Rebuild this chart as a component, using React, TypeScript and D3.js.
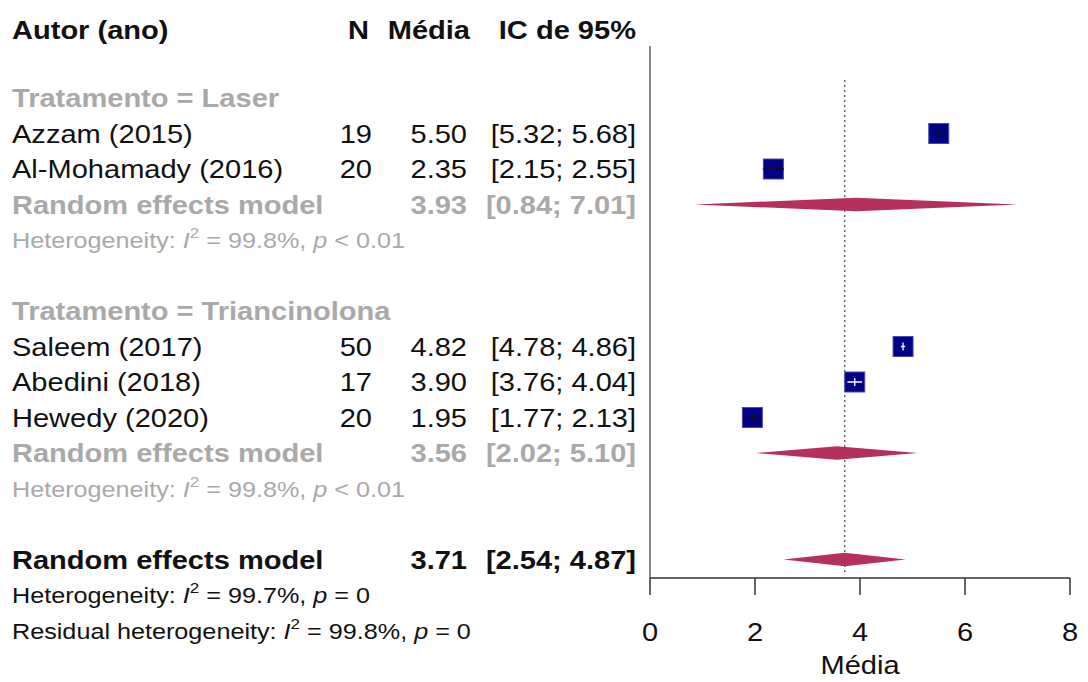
import React from "react";
import * as d3 from "d3";

// Individual studies
const studyLabels = ["Azzam (2015)", "Al-Mohamady (2016)", "Saleem (2017)", "Abedini (2018)", "Hewedy (2020)"];
const studyGroup = ["Laser", "Laser", "Triancinolona", "Triancinolona", "Triancinolona"];
const studyN = [19, 20, 50, 17, 20];
const studyMean = [5.5, 2.35, 4.82, 3.9, 1.95];
const studyLower = [5.32, 2.15, 4.78, 3.76, 1.77];
const studyUpper = [5.68, 2.55, 4.86, 4.04, 2.13];

// Subgroup random-effects summaries
const groupNames = ["Laser", "Triancinolona"];
const groupMean = [3.93, 3.56];
const groupLower = [0.84, 2.02];
const groupUpper = [7.01, 5.1];
const groupI2 = ["99.8%", "99.8%"];
const groupP = ["< 0.01", "< 0.01"];

// Overall random-effects summary
const overallMean = 3.71;
const overallLower = 2.54;
const overallUpper = 4.87;
const overallI2 = "99.7%";
const overallP = "= 0";
const residualI2 = "99.8%";
const residualP = "= 0";

const axisTicks = [0, 2, 4, 6, 8];

const W = 1088;
const H = 682;
const FONT = "'Liberation Sans', Arial, Helvetica, sans-serif";
const SX = 1.1;
const FS = 26.4;
const FS_HET = 22.9;
const BLACK = "#111";
const GREY = "#a9a9a9";
const DIAMOND = "#b5305e";
const BOX = "#000088";

const x = d3.scaleLinear().domain([0, 8]).range([650, 1070]);
const rowY = d3.scaleLinear().domain([1, 2]).range([98, 133.5]);

const fmt = d3.format(".2f");
const ci = (l: number, u: number) => `[${fmt(l)}; ${fmt(u)}]`;

type TProps = {
  x: number;
  y: number;
  anchor?: "start" | "end" | "middle";
  bold?: boolean;
  fill?: string;
  size?: number;
  children: React.ReactNode;
};

function T({ x, y, anchor = "start", bold = false, fill = BLACK, size = FS, children }: TProps) {
  return (
    <text
      transform={`translate(${x},${y}) scale(${SX},1)`}
      textAnchor={anchor}
      fontFamily={FONT}
      fontWeight={bold ? "bold" : "normal"}
      fontSize={size}
      fill={fill}
    >
      {children}
    </text>
  );
}

function Het({ y, prefix, i2, p, fill }: { y: number; prefix: string; i2: string; p: string; fill: string }) {
  return (
    <T x={12} y={y + 8} size={FS_HET} fill={fill}>
      {prefix}
      <tspan fontStyle="italic">I</tspan>
      <tspan dy={-10} fontSize={15.5}>2</tspan>
      <tspan dy={10}>{` = ${i2}, `}</tspan>
      <tspan fontStyle="italic">p</tspan>
      {` ${p}`}
    </T>
  );
}

const diamondPath = (m: number, l: number, u: number, cy: number, h: number) =>
  `M${x(l)},${cy} L${x(m)},${cy - h} L${x(u)},${cy} L${x(m)},${cy + h} Z`;

const COL_N = 372;
const COL_MEAN = 467;
const COL_CI = 636;
const BOX_SIZE = 20;

export default function App() {
  const rows: React.ReactNode[] = [];
  const marks: React.ReactNode[] = [];
  let r = 1;

  groupNames.forEach((g, gi) => {
    rows.push(
      <T key={`gh${gi}`} x={12} y={rowY(r) + 9} bold fill={GREY}>
        {`Tratamento = ${g}`}
      </T>
    );
    r++;
    studyLabels.forEach((lab, i) => {
      if (studyGroup[i] !== g) return;
      const cy = rowY(r);
      const by = cy + 9;
      rows.push(
        <g key={`s${i}`}>
          <T x={12} y={by}>{lab}</T>
          <T x={COL_N} y={by} anchor="end">{studyN[i]}</T>
          <T x={COL_MEAN} y={by} anchor="end">{fmt(studyMean[i])}</T>
          <T x={COL_CI} y={by} anchor="end">{ci(studyLower[i], studyUpper[i])}</T>
        </g>
      );
      const ciW = x(studyUpper[i]) - x(studyLower[i]);
      const lineCol = ciW < BOX_SIZE - 2 ? "#ffffff" : "#111";
      const cx = x(studyMean[i]);
      marks.push(
        <g key={`m${i}`}>
          <rect
            x={cx - BOX_SIZE / 2}
            y={cy - BOX_SIZE / 2}
            width={BOX_SIZE}
            height={BOX_SIZE}
            fill={BOX}
            stroke="#4a4aa8"
            strokeWidth={1}
          />
          <line x1={x(studyLower[i])} x2={x(studyUpper[i])} y1={cy} y2={cy} stroke={lineCol} strokeWidth={1.5} />
          <line x1={cx} x2={cx} y1={cy - 4} y2={cy + 4} stroke={lineCol} strokeWidth={1.3} />
        </g>
      );
      r++;
    });
    const cy = rowY(r);
    rows.push(
      <g key={`gre${gi}`}>
        <T x={12} y={cy + 9} bold fill={GREY}>Random effects model</T>
        <T x={COL_MEAN} y={cy + 9} anchor="end" bold fill={GREY}>{fmt(groupMean[gi])}</T>
        <T x={COL_CI} y={cy + 9} anchor="end" bold fill={GREY}>{ci(groupLower[gi], groupUpper[gi])}</T>
      </g>
    );
    marks.push(
      <path key={`gd${gi}`} d={diamondPath(groupMean[gi], groupLower[gi], groupUpper[gi], cy, 6.8)} fill={DIAMOND} />
    );
    r++;
    rows.push(
      <Het key={`gh2${gi}`} y={rowY(r)} prefix="Heterogeneity: " i2={groupI2[gi]} p={groupP[gi]} fill={GREY} />
    );
    r += 2;
  });

  const oy = rowY(r);
  rows.push(
    <g key="overall">
      <T x={12} y={oy + 9} bold>Random effects model</T>
      <T x={COL_MEAN} y={oy + 9} anchor="end" bold>{fmt(overallMean)}</T>
      <T x={COL_CI} y={oy + 9} anchor="end" bold>{ci(overallLower, overallUpper)}</T>
    </g>
  );
  marks.push(<path key="od" d={diamondPath(overallMean, overallLower, overallUpper, oy, 6.8)} fill={DIAMOND} />);
  rows.push(<Het key="oh" y={rowY(r + 1)} prefix="Heterogeneity: " i2={overallI2} p={overallP} fill={BLACK} />);
  rows.push(
    <Het key="rh" y={rowY(r + 2)} prefix="Residual heterogeneity: " i2={residualI2} p={residualP} fill={BLACK} />
  );

  const axisY = 578;

  return (
    <svg width={W} height={H} style={{ position: "absolute", left: 0, top: 0, background: "#fff" }}>
      <rect width={W} height={H} fill="#fff" />
      {/* column headers */}
      <T x={12} y={39} bold>Autor (ano)</T>
      <T x={369} y={39} anchor="end" bold>N</T>
      <T x={COL_MEAN + 3} y={39} anchor="end" bold>Média</T>
      <T x={COL_CI} y={39} anchor="end" bold>IC de 95%</T>

      {rows}

      {/* reference line at zero */}
      <line x1={x(0)} x2={x(0)} y1={46} y2={axisY} stroke="#8a8a8a" strokeWidth={2} />
      {/* overall effect line */}
      <line
        x1={x(overallMean)}
        x2={x(overallMean)}
        y1={80}
        y2={573}
        stroke="#555"
        strokeWidth={1.3}
        strokeDasharray="2,3"
      />

      {marks}

      {/* x axis */}
      <line x1={x(0)} x2={x(8)} y1={axisY} y2={axisY} stroke="#333" strokeWidth={1.5} />
      {axisTicks.map((t) => (
        <g key={t}>
          <line x1={x(t)} x2={x(t)} y1={axisY} y2={axisY + 17} stroke="#333" strokeWidth={1.5} />
          <T x={x(t)} y={641} anchor="middle">{t}</T>
        </g>
      ))}
      <T x={x(4)} y={674} anchor="middle">Média</T>
    </svg>
  );
}
